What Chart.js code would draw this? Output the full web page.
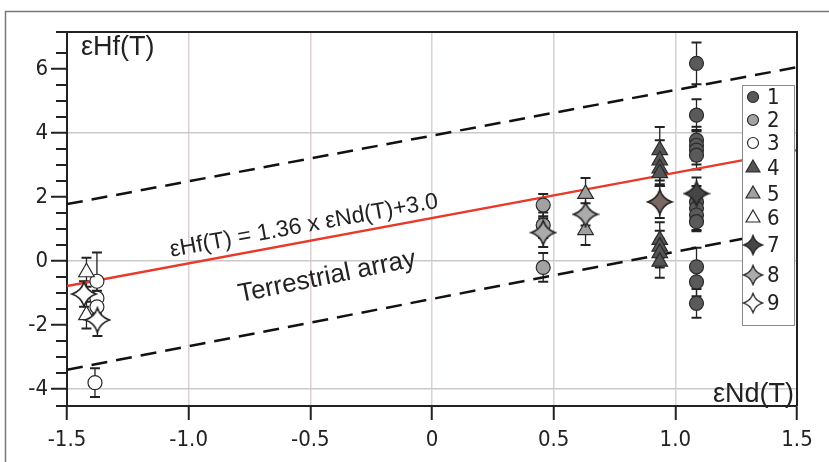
<!DOCTYPE html>
<html>
<head>
<meta charset="utf-8">
<script src="https://cdn.jsdelivr.net/npm/chart.js@4.4.0/dist/chart.umd.min.js"></script>
<style>
  html, body { margin: 0; padding: 0; background: #fff; }
  #wrap { position: relative; width: 829px; height: 462px; }
</style>
</head>
<body>
<div id="wrap"><canvas id="myChart" width="829" height="462"></canvas></div>
<script>
// ---- data: x = eNd(T), y = eHf(T), err = 2 sigma ----
var s1Nd = [1.087, 1.087, 1.087, 1.087, 1.087, 1.087, 1.087, 1.087, 1.087, 1.087, 1.087, 1.087, 1.087];
var s1Hf = [6.18, 4.56, 3.78, 3.62, 3.47, 3.31, 1.85, 1.65, 1.44, 1.23, -0.18, -0.65, -1.32];
var s1Err = [0.65, 0.5, 0.42, 0.48, 0.45, 0.45, 0.5, 0.4, 0.47, 0.3, 0.6, 0.45, 0.45];

var s2Nd = [0.457, 0.457, 0.457];
var s2Hf = [1.75, 1.12, -0.2];
var s2Err = [0.35, 0.4, 0.45];

var s3Nd = [-1.377, -1.377, -1.377, -1.385];
var s3Hf = [-0.63, -1.16, -1.43, -3.8];
var s3Err = [0.9, 0.5, 0.5, 0.45];

var s4Nd = [0.936, 0.936, 0.936, 0.936, 0.936, 0.936, 0.936, 0.936];
var s4Hf = [3.47, 3.15, 2.9, 2.75, 0.66, 0.45, 0.25, -0.02];
var s4Err = [0.72, 0.63, 0.5, 0.4, 0.55, 0.5, 0.45, 0.5];

var s5Nd = [0.631, 0.631];
var s5Hf = [2.1, 0.97];
var s5Err = [0.5, 0.47];

var s6Nd = [-1.42, -1.42];
var s6Hf = [-0.35, -1.69];
var s6Err = [0.45, 0.42];

var s7Nd = [0.936, 1.087];
var s7Hf = [1.85, 2.11];
var s7Err = [0.5, 0.5];

var s8Nd = [0.457, 0.631];
var s8Hf = [0.89, 1.46];
var s8Err = [0.45, 0.35];

var s9Nd = [-1.43, -1.375];
var s9Hf = [-1.03, -1.84];
var s9Err = [0.4, 0.5];

// reference lines (terrestrial array and its envelope)
var lineNd = [-1.5, 1.5];
var arrayHf = [-0.78, 3.47];
var upperHf = [1.78, 6.06];
var lowerHf = [-3.4, 1.03];

// axes
var yTicks = [-4, -2, 0, 2, 4, 6];
var yGrid = [-4, 0, 4];
var xTickLabels = ['-1.5', '-1.0', '-0.5', '0', '0.5', '1.0', '1.5'];
var seriesNames = ['1', '2', '3', '4', '5', '6', '7', '8', '9'];

var FONT = 'Liberation Sans, Arial, sans-serif';
var NARROW = 'Liberation Sans Narrow, Arial Narrow, DejaVu Sans Condensed, sans-serif';
var INK = '#222';
var NONE = 'rgba(0,0,0,0)';

// 4 pointed star with curved sides
function makeStar(fill, size) {
  var c = document.createElement('canvas');
  c.width = size + 4;
  c.height = size + 4;
  var g = c.getContext('2d');
  var r = size / 2, cx = c.width / 2, cy = c.height / 2, k = r * 0.25;
  g.beginPath();
  g.moveTo(cx, cy - r);
  g.quadraticCurveTo(cx + k, cy - k, cx + r, cy);
  g.quadraticCurveTo(cx + k, cy + k, cx, cy + r);
  g.quadraticCurveTo(cx - k, cy + k, cx - r, cy);
  g.quadraticCurveTo(cx - k, cy - k, cx, cy - r);
  g.closePath();
  g.fillStyle = fill;
  g.fill();
  g.lineWidth = 1.7;
  g.strokeStyle = INK;
  g.stroke();
  return c;
}

var starDark = makeStar('#464646', 24);
var starBrown = makeStar('#7a6862', 24);
var starGrey = makeStar('#ababab', 24);
var starWhite = makeStar('#ffffff', 24);

function pts(xs, ys) {
  return xs.map(function (x, i) { return { x: x, y: ys[i] }; });
}

function pointSet(label, xs, ys, errs, style, fill, radius, order) {
  return {
    label: label,
    data: pts(xs, ys),
    errors: errs,
    pointStyle: style,
    pointRadius: radius,
    pointBackgroundColor: fill,
    pointBorderColor: '#2a2a2a',
    pointBorderWidth: 1.2,
    showLine: false,
    order: order
  };
}

function lineSet(ys, color, dash) {
  return {
    data: pts(lineNd, ys),
    showLine: true,
    borderColor: color,
    borderWidth: dash ? 2.5 : 2.4,
    borderDash: dash || [],
    pointRadius: 0,
    fill: false,
    order: 20
  };
}

var datasets = [
  lineSet(upperHf, '#111', [16, 9]),
  lineSet(lowerHf, '#111', [16, 9]),
  lineSet(arrayHf, '#e8392a', null),
  pointSet('1', s1Nd, s1Hf, s1Err, 'circle', '#5a5a5a', 7, 9),
  pointSet('2', s2Nd, s2Hf, s2Err, 'circle', '#a2a2a2', 7, 8),
  pointSet('3', s3Nd, s3Hf, s3Err, 'circle', '#ffffff', 7, 7),
  pointSet('4', s4Nd, s4Hf, s4Err, 'triangle', '#555555', 9, 6),
  pointSet('5', s5Nd, s5Hf, s5Err, 'triangle', '#a0a0a0', 9, 5),
  pointSet('6', s6Nd, s6Hf, s6Err, 'triangle', '#ffffff', 9, 4),
  pointSet('7', s7Nd, s7Hf, s7Err, [starBrown, starDark], '#464646', 12, 3),
  pointSet('8', s8Nd, s8Hf, s8Err, starGrey, '#ababab', 12, 2),
  pointSet('9', s9Nd, s9Hf, s9Err, starWhite, '#ffffff', 12, 1)
];

// error bars under the markers
var errorBars = {
  id: 'errorBars',
  beforeDatasetsDraw: function (chart) {
    var ctx = chart.ctx, ys = chart.scales.y;
    ctx.save();
    ctx.strokeStyle = INK;
    chart.data.datasets.forEach(function (ds, i) {
      if (!ds.errors) return;
      var meta = chart.getDatasetMeta(i);
      meta.data.forEach(function (pt, j) {
        var top = ys.getPixelForValue(ds.data[j].y + ds.errors[j]);
        var bot = ys.getPixelForValue(ds.data[j].y - ds.errors[j]);
        ctx.lineWidth = 1.3;
        ctx.beginPath();
        ctx.moveTo(pt.x, top);
        ctx.lineTo(pt.x, bot);
        ctx.stroke();
        ctx.lineWidth = 2;
        ctx.beginPath();
        ctx.moveTo(pt.x - 5, top); ctx.lineTo(pt.x + 5, top);
        ctx.moveTo(pt.x - 5, bot); ctx.lineTo(pt.x + 5, bot);
        ctx.stroke();
      });
    });
    ctx.restore();
  }
};

function drawMarker(ctx, style, fill, x, y) {
  if (style === 'circle') {
    ctx.beginPath();
    ctx.arc(x, y, 5.5, 0, Math.PI * 2);
  } else if (style === 'triangle') {
    var r = 8;
    ctx.beginPath();
    ctx.moveTo(x, y - r);
    ctx.lineTo(x + r * 0.866, y + r * 0.5);
    ctx.lineTo(x - r * 0.866, y + r * 0.5);
    ctx.closePath();
  } else {
    ctx.drawImage(style, x - 11, y - 11, 22, 22);
    return;
  }
  ctx.fillStyle = fill;
  ctx.fill();
  ctx.lineWidth = 1.2;
  ctx.strokeStyle = '#2a2a2a';
  ctx.stroke();
}

// frame, minor ticks, titles, notes, legend
var decorations = {
  id: 'decorations',
  afterDraw: function (chart) {
    var ctx = chart.ctx, a = chart.chartArea, ys = chart.scales.y;
    ctx.save();

    // outer figure border
    ctx.strokeStyle = '#7a7a7a';
    ctx.lineWidth = 1.5;
    ctx.beginPath();
    ctx.moveTo(5.5, 470);
    ctx.lineTo(5.5, 11.5);
    ctx.lineTo(829, 11.5);
    ctx.stroke();

    // plot frame top/right
    ctx.strokeStyle = INK;
    ctx.lineWidth = 2;
    ctx.beginPath();
    ctx.moveTo(a.left, a.top);
    ctx.lineTo(a.right, a.top);
    ctx.lineTo(a.right, a.bottom);
    ctx.stroke();

    // minor ticks on y
    ys.ticks.forEach(function (t) {
      if (yTicks.indexOf(t.value) >= 0) return;
      var py = Math.round(ys.getPixelForValue(t.value));
      ctx.beginPath();
      ctx.moveTo(a.left - 11, py);
      ctx.lineTo(a.left, py);
      ctx.stroke();
    });

    // axis titles inside the plot
    ctx.fillStyle = INK;
    ctx.font = '27px ' + FONT;
    ctx.textBaseline = 'middle';
    ctx.textAlign = 'left';
    ctx.fillText('\u03b5Hf(T)', 81, 48);
    ctx.textAlign = 'right';
    ctx.fillText('\u03b5Nd(T)', 794, 395);

    // notes along the array
    ctx.textAlign = 'center';
    ctx.save();
    ctx.translate(304, 226);
    ctx.rotate(-10.4 * Math.PI / 180);
    ctx.font = '23px ' + FONT;
    ctx.fillText('\u03b5Hf(T) = 1.36 x \u03b5Nd(T)+3.0', 0, 0);
    ctx.restore();
    ctx.save();
    ctx.translate(327, 277);
    ctx.rotate(-11.5 * Math.PI / 180);
    ctx.font = '26px ' + FONT;
    ctx.fillText('Terrestrial array', 0, 0);
    ctx.restore();

    // legend box
    ctx.fillStyle = '#fff';
    ctx.fillRect(742, 85, 52, 240);
    ctx.strokeStyle = '#8a8a8a';
    ctx.lineWidth = 1;
    ctx.strokeRect(742.5, 85.5, 52, 240);
    var rowsY = [97, 120, 143, 168, 194, 218, 245, 275, 303];
    var styles = ['circle', 'circle', 'circle', 'triangle', 'triangle', 'triangle', starDark, starGrey, starWhite];
    var fills = ['#5a5a5a', '#a2a2a2', '#ffffff', '#555555', '#a0a0a0', '#ffffff', null, null, null];
    ctx.font = '22px ' + NARROW;
    ctx.textAlign = 'left';
    seriesNames.forEach(function (name, i) {
      drawMarker(ctx, styles[i], fills[i], 753, rowsY[i]);
      ctx.fillStyle = INK;
      ctx.fillText(name, 767, rowsY[i] + 1);
    });

    ctx.restore();
  }
};

new Chart(document.getElementById('myChart').getContext('2d'), {
  type: 'scatter',
  data: { datasets: datasets },
  plugins: [errorBars, decorations],
  options: {
    responsive: false,
    animation: false,
    events: [],
    layout: { padding: { left: 0, top: 32, right: 32, bottom: 0 } },
    plugins: { legend: { display: false }, tooltip: { enabled: false } },
    scales: {
      x: {
        type: 'linear',
        min: -1.5,
        max: 1.5,
        afterFit: function (s) { s.height = 56; s.paddingLeft = 0; s.paddingRight = 0; },
        ticks: {
          stepSize: 0.5,
          autoSkip: false,
          maxRotation: 0,
          padding: 7,
          color: INK,
          font: { family: NARROW, size: 22 },
          callback: function (v, i) { return xTickLabels[i]; }
        },
        grid: {
          color: function (c) { return (c.tick && c.tick.value > -1.5 && c.tick.value < 1.5) ? '#dcd0d0' : NONE; },
          lineWidth: 1.5,
          tickLength: 14,
          tickWidth: 2,
          tickColor: INK
        },
        border: { display: true, color: INK, width: 2 }
      },
      y: {
        type: 'linear',
        min: -4.53,
        max: 7.16,
        afterFit: function (s) { s.width = 67; s.paddingTop = 0; s.paddingBottom = 0; },
        ticks: {
          stepSize: 0.5,
          autoSkip: false,
          padding: 3,
          color: INK,
          font: { family: NARROW, size: 22 },
          callback: function (v) { return yTicks.indexOf(v) >= 0 ? String(v) : ''; }
        },
        grid: {
          color: function (c) { return (c.tick && yGrid.indexOf(c.tick.value) >= 0) ? '#c9c9c9' : NONE; },
          lineWidth: 1.5,
          tickLength: 16,
          tickWidth: 2,
          tickColor: function (c) { return (c.tick && yTicks.indexOf(c.tick.value) >= 0) ? INK : NONE; }
        },
        border: { display: true, color: INK, width: 2 }
      }
    }
  }
});
</script>
</body>
</html>
